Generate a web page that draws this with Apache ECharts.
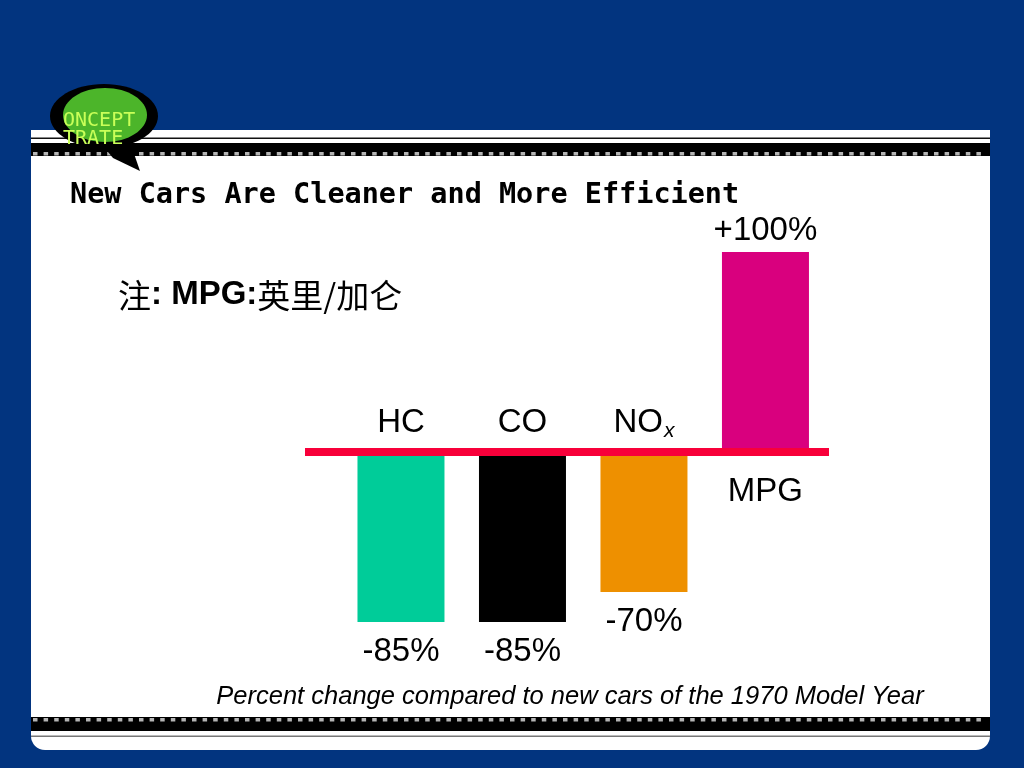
<!DOCTYPE html>
<html>
<head>
<meta charset="utf-8">
<script src="https://cdn.jsdelivr.net/npm/echarts@6/dist/echarts.min.js"></script>
<style>html,body{margin:0;padding:0;background:#02347f;}#c{width:1024px;height:768px;}</style>
</head>
<body>
<div id="c"></div>
<script>
// ---- data ----
const categories = ['HC', 'CO', 'NOx', 'MPG'];
const values = [-85, -85, -70, 100];
const valueLabels = ['-85%', '-85%', '-70%', '+100%'];
const titleText = 'New Cars Are Cleaner and More Efficient';
const noteText = ['注', ': MPG:', '英里/加仑'];
const footText = 'Percent change compared to new cars of the 1970 Model Year';

// ---- styles ----
const barColors = ['#00cc99', '#000000', '#ee9000', '#d9007e'];
const sans = '"Liberation Sans", Arial, sans-serif';

const chart = echarts.init(document.getElementById('c'), null, {renderer: 'canvas'});

// film strip decorations
const deco = [];
deco.push({type: 'rect', shape: {x: 31, y: 130, width: 959, height: 620, r: [0, 0, 14, 14]}, style: {fill: '#ffffff'}});
deco.push({type: 'rect', shape: {x: 31, y: 137.5, width: 959, height: 1.5}, style: {fill: '#111'}});
deco.push({type: 'rect', shape: {x: 31, y: 143, width: 959, height: 13}, style: {fill: '#000'}});
deco.push({type: 'rect', shape: {x: 31, y: 717, width: 959, height: 14}, style: {fill: '#000'}});
deco.push({type: 'rect', shape: {x: 31, y: 735.5, width: 959, height: 1.5}, style: {fill: '#777'}});
for (let x = 33; x < 987; x += 10.6) {
  deco.push({type: 'rect', shape: {x: x, y: 152, width: 4.5, height: 3.5}, style: {fill: '#b5b5b5'}});
  deco.push({type: 'rect', shape: {x: x, y: 718, width: 4.5, height: 3.5}, style: {fill: '#b5b5b5'}});
}
// logo
deco.push({type: 'polygon', shape: {points: [[98, 140], [130, 142], [140, 171], [113, 158]]}, style: {fill: '#000'}});
deco.push({type: 'ellipse', shape: {cx: 104, cy: 116, rx: 54, ry: 32}, style: {fill: '#000'}});
deco.push({type: 'ellipse', shape: {cx: 105, cy: 115, rx: 42, ry: 27}, style: {fill: '#4cb52a'}});
deco.push({type: 'text', x: 63, y: 121, style: {text: 'ONCEPT', fill: '#c9ff58', font: '20px "DejaVu Sans Mono", monospace', verticalAlign: 'middle'}});
deco.push({type: 'text', x: 63, y: 139, style: {text: 'TRATE', fill: '#c9ff58', font: '20px "DejaVu Sans Mono", monospace', verticalAlign: 'middle'}});
// title
deco.push({type: 'text', x: 70, y: 196, style: {text: titleText, fill: '#000', font: 'bold 28.5px "DejaVu Sans Mono", monospace', verticalAlign: 'middle'}});
// note
deco.push({type: 'text', x: 118, y: 295, style: {
  text: '{a|' + noteText[0] + '}{b|' + noteText[1] + '}{a|' + noteText[2] + '}',
  verticalAlign: 'middle',
  rich: {
    a: {fontFamily: '"Noto Sans CJK SC", sans-serif', fontSize: 33, fill: '#000', color: '#000'},
    b: {fontFamily: sans, fontWeight: 'bold', fontSize: 33, fill: '#000', color: '#000'}
  }
}});
// footnote
deco.push({type: 'text', x: 570, y: 697, style: {text: footText, fill: '#000', font: 'italic 25.5px ' + sans, align: 'center', verticalAlign: 'middle'}});

const option = {
  backgroundColor: '#02347f',
  animation: false,
  graphic: deco,
  grid: {left: 305, right: 195, top: 232, bottom: 116},
  xAxis: {
    type: 'value', min: -0.79, max: 3.523, z: 10,
    axisLine: {show: true, onZero: true, lineStyle: {color: '#f8003a', width: 8, cap: 'butt'}},
    axisTick: {show: false}, axisLabel: {show: false}, splitLine: {show: false}
  },
  yAxis: {
    type: 'value', min: -100, max: 110,
    axisLine: {show: false}, axisTick: {show: false}, axisLabel: {show: false}, splitLine: {show: false}
  },
  series: [
    {
      type: 'bar', barWidth: 87, barGap: '-100%',
      data: values.map((v, i) => ({
        value: [i, v],
        itemStyle: {color: barColors[i]},
        label: {show: true, position: v < 0 ? 'bottom' : 'top', distance: v < 0 ? 13 : 5, formatter: valueLabels[i]}
      })),
      label: {color: '#000', fontFamily: sans, fontSize: 33}
    },
    {
      type: 'bar', barWidth: 87, barGap: '-100%',
      itemStyle: {color: 'rgba(0,0,0,0)'},
      data: values.map((v, i) => ({
        value: [i, v],
        label: {
          show: true, position: v < 0 ? 'top' : 'bottom', distance: v < 0 ? 10 : 21,
          formatter: categories[i] === 'NOx' ? '{m|NO}{s|x}' : '{m|' + categories[i] + '}'
        }
      })),
      label: {
        color: '#000', fontFamily: sans, fontSize: 33,
        rich: {
          m: {fontFamily: sans, fontSize: 33, color: '#000', lineHeight: 38},
          s: {fontFamily: sans, fontSize: 21, fontStyle: 'italic', color: '#000', lineHeight: 38, padding: [17, 0, 0, 1]}
        }
      }
    }
  ]
};
chart.setOption(option);
</script>
</body>
</html>
